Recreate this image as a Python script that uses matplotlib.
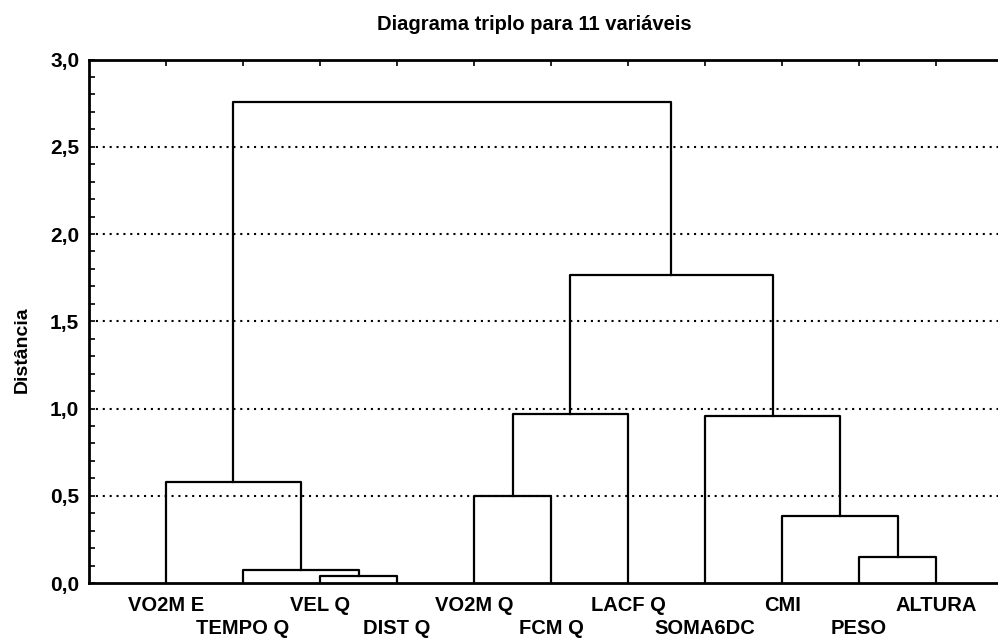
import matplotlib.pyplot as plt
from matplotlib.ticker import MultipleLocator, FuncFormatter

plt.rcParams['font.family'] = ['Liberation Sans', 'DejaVu Sans']
plt.rcParams['font.weight'] = 'bold'

# leaf order as shown on the x axis
leaves = ["VO2M E", "TEMPO Q", "VEL Q", "DIST Q", "VO2M Q", "FCM Q",
          "LACF Q", "SOMA6DC", "CMI", "PESO", "ALTURA"]

# linkage: clusters numbered 11.. in merge order (scipy-like)
merge_a = [2, 1, 0, 4, 14, 9, 8, 7, 15, 13]
merge_b = [3, 11, 12, 5, 6, 10, 16, 17, 18, 19]
merge_height = [0.042, 0.073, 0.577, 0.497, 0.966, 0.151, 0.384, 0.958, 1.764, 2.759]

fig = plt.figure(figsize=(9.98, 6.38), dpi=100)
ax = fig.add_axes([0.0892, 0.0862, 0.926, 0.8205])

n = len(leaves)
xpos = {i: i + 1 for i in range(n)}
ypos = {i: 0.0 for i in range(n)}
for k, (a, b, h) in enumerate(zip(merge_a, merge_b, merge_height)):
    xa, xb = xpos[a], xpos[b]
    ax.plot([xa, xa, xb, xb], [ypos[a], h, h, ypos[b]], color='black', lw=1.6, zorder=3)
    xpos[n + k] = (xa + xb) / 2
    ypos[n + k] = h

ax.set_xlim(0, 12)
ax.set_ylim(0, 3.0)

for yv in [0.5, 1.0, 1.5, 2.0, 2.5]:
    ax.axhline(yv, color='black', lw=1.5, ls=(0, (1, 2.3)), zorder=1)

ax.yaxis.set_major_locator(MultipleLocator(0.5))
ax.yaxis.set_minor_locator(MultipleLocator(0.1))
ax.yaxis.set_major_formatter(FuncFormatter(lambda v, p: f"{v:.1f}".replace('.', ',')))
ax.tick_params(axis='y', which='both', direction='in', length=4, width=1.2,
               labelsize=15, pad=7, right=False)
ax.set_xticks(range(1, n + 1))
ax.tick_params(axis='x', which='both', direction='in', length=4, width=1.2,
               top=True, bottom=False, labelbottom=False)

for i, name in enumerate(leaves):
    off = -13 if i % 2 == 0 else -36
    ax.annotate(name, xy=(i + 1, 0), xycoords=('data', 'axes fraction'),
                xytext=(0, off * 0.72), textcoords='offset points',
                ha='center', va='top', fontsize=14.5, fontweight='bold')

for side in ['left', 'top', 'bottom']:
    ax.spines[side].set_linewidth(2)
ax.spines['right'].set_visible(False)

fig.text(534 / 998, 1 - 24 / 638, "Diagrama triplo para 11 variáveis",
         ha='center', va='center', fontsize=14.5, fontweight='bold')
fig.text(22 / 998, 1 - 350 / 638, "Distância", rotation=90,
         ha='center', va='center', fontsize=14, fontweight='bold')

fig.savefig("out.png", dpi=100)
